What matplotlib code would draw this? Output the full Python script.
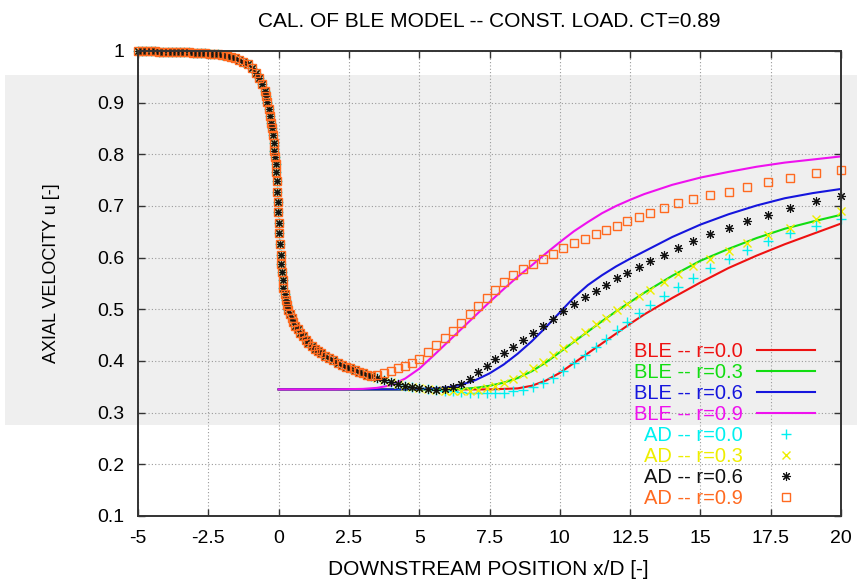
import numpy as np
import matplotlib
matplotlib.use("Agg")
import matplotlib.pyplot as plt
from matplotlib.patches import Rectangle

plt.rcParams["font.family"] = ["Liberation Sans", "DejaVu Sans"]
plt.rcParams["axes.unicode_minus"] = False

# BLE model lines (start at the rotor plane x/D = 0)
x_ble = [0, 1, 2, 3, 3.5, 4, 4.5, 5, 5.5, 6, 6.5, 7, 7.5, 8, 8.5, 9, 9.5, 10,
         10.5, 11, 11.5, 12, 12.5, 13, 14, 15, 16, 17, 18, 19, 20]
ble_r00 = [0.345, 0.345, 0.345, 0.345, 0.345, 0.345, 0.345, 0.345, 0.345, 0.345,
           0.345, 0.345, 0.345, 0.346, 0.347, 0.352, 0.362, 0.377, 0.396, 0.415,
           0.434, 0.453, 0.472, 0.490, 0.522, 0.552, 0.580, 0.604, 0.626, 0.646, 0.666]
ble_r03 = [0.345, 0.345, 0.345, 0.345, 0.345, 0.345, 0.345, 0.345, 0.345, 0.345,
           0.346, 0.348, 0.352, 0.358, 0.367, 0.380, 0.397, 0.417, 0.437, 0.457,
           0.477, 0.496, 0.514, 0.532, 0.565, 0.594, 0.617, 0.638, 0.656, 0.670, 0.683]
ble_r06 = [0.345, 0.345, 0.345, 0.345, 0.345, 0.345, 0.345, 0.346, 0.347, 0.349,
           0.354, 0.363, 0.376, 0.393, 0.414, 0.438, 0.465, 0.494, 0.523, 0.547,
           0.566, 0.583, 0.598, 0.612, 0.640, 0.664, 0.684, 0.701, 0.715, 0.725, 0.733]
ble_r09 = [0.345, 0.345, 0.345, 0.346, 0.348, 0.353, 0.366, 0.385, 0.410, 0.436,
           0.462, 0.488, 0.514, 0.539, 0.563, 0.585, 0.608, 0.630, 0.651, 0.669,
           0.686, 0.700, 0.712, 0.723, 0.741, 0.755, 0.766, 0.776, 0.784, 0.790, 0.796]

# AD (actuator disc) results: common upstream / near-wake part
x_ad_up = [-5.0, -4.85, -4.7, -4.55, -4.4, -4.25, -4.1, -3.95, -3.8, -3.65,
           -3.5, -3.35, -3.2, -3.05, -2.9, -2.75, -2.6, -2.45, -2.3, -2.15,
           -2.0, -1.85, -1.7, -1.55, -1.4, -1.25, -1.1, -0.95, -0.8, -0.7,
           -0.6, -0.5, -0.45, -0.4, -0.35, -0.31, -0.27, -0.24, -0.21, -0.18,
           -0.15, -0.13, -0.11, -0.09, -0.07, -0.05, -0.03, -0.01, 0.01, 0.03,
           0.05, 0.07, 0.09, 0.11, 0.14, 0.17, 0.21, 0.25, 0.3, 0.35,
           0.4, 0.46, 0.52, 0.6, 0.68, 0.77, 0.86, 0.96, 1.06, 1.17,
           1.28, 1.4, 1.52, 1.65, 1.8, 1.95, 2.1, 2.25, 2.4, 2.55,
           2.7, 2.85, 3.0, 3.15, 3.3]
u_ad_up = [1.000, 1.000, 1.000, 1.000, 1.000, 0.999, 0.999, 0.999, 0.999, 0.999,
           0.998, 0.998, 0.998, 0.997, 0.997, 0.997, 0.996, 0.995, 0.995, 0.994,
           0.992, 0.991, 0.989, 0.986, 0.983, 0.979, 0.974, 0.967, 0.957, 0.948,
           0.937, 0.922, 0.913, 0.901, 0.887, 0.874, 0.861, 0.850, 0.837, 0.822,
           0.806, 0.794, 0.782, 0.766, 0.748, 0.728, 0.708, 0.688, 0.668, 0.647,
           0.626, 0.605, 0.587, 0.572, 0.556, 0.542, 0.529, 0.519, 0.508, 0.499,
           0.491, 0.484, 0.476, 0.468, 0.461, 0.454, 0.448, 0.441, 0.435, 0.429,
           0.424, 0.419, 0.415, 0.410, 0.406, 0.401, 0.397, 0.393, 0.389, 0.386,
           0.382, 0.379, 0.376, 0.373, 0.370]

# AD results further downstream, one list per radius
x_ad_dn = [3.5, 3.75, 4.0, 4.25, 4.5, 4.75, 5.0, 5.3, 5.6, 5.9,
           6.2, 6.5, 6.8, 7.1, 7.4, 7.7, 8.0, 8.35, 8.7, 9.05,
           9.4, 9.75, 10.1, 10.5, 10.9, 11.3, 11.65, 12.05, 12.4, 12.8,
           13.2, 13.7, 14.2, 14.75, 15.35, 16.0, 16.65, 17.4, 18.2, 19.1,
           20.0]
ad_r00 = [0.367, 0.363, 0.359, 0.355, 0.352, 0.349, 0.347, 0.345, 0.343, 0.342,
          0.341, 0.340, 0.339, 0.338, 0.338, 0.338, 0.339, 0.341, 0.344, 0.349,
          0.357, 0.368, 0.381, 0.396, 0.412, 0.428, 0.443, 0.460, 0.475, 0.492,
          0.508, 0.526, 0.543, 0.561, 0.580, 0.598, 0.615, 0.633, 0.648, 0.662,
          0.675]
ad_r03 = [0.367, 0.363, 0.359, 0.355, 0.352, 0.349, 0.347, 0.345, 0.343, 0.342,
          0.341, 0.341, 0.342, 0.344, 0.347, 0.351, 0.357, 0.365, 0.375, 0.386,
          0.399, 0.412, 0.426, 0.441, 0.456, 0.471, 0.484, 0.499, 0.511, 0.525,
          0.538, 0.553, 0.568, 0.583, 0.598, 0.613, 0.628, 0.643, 0.658, 0.674,
          0.690]
ad_r06 = [0.367, 0.363, 0.359, 0.355, 0.352, 0.349, 0.347, 0.345, 0.344, 0.345,
          0.349, 0.356, 0.366, 0.378, 0.391, 0.403, 0.415, 0.428, 0.440, 0.454,
          0.467, 0.481, 0.496, 0.510, 0.523, 0.536, 0.547, 0.560, 0.571, 0.582,
          0.593, 0.606, 0.619, 0.632, 0.645, 0.658, 0.671, 0.683, 0.696, 0.709,
          0.720]
ad_r09 = [0.372, 0.376, 0.381, 0.386, 0.391, 0.397, 0.404, 0.417, 0.431, 0.445,
          0.459, 0.474, 0.490, 0.506, 0.522, 0.537, 0.552, 0.566, 0.578, 0.588,
          0.598, 0.608, 0.618, 0.628, 0.637, 0.645, 0.653, 0.661, 0.670, 0.679,
          0.687, 0.697, 0.705, 0.713, 0.721, 0.728, 0.737, 0.746, 0.755, 0.763,
          0.769]

ble_labels = ["BLE -- r=0.0", "BLE -- r=0.3", "BLE -- r=0.6", "BLE -- r=0.9"]
ad_labels = ["AD -- r=0.0", "AD -- r=0.3", "AD -- r=0.6", "AD -- r=0.9"]
ble_colors = ["#ee1111", "#11dd11", "#1515dd", "#ee11ee"]
ad_colors = ["#00f0f0", "#eeee00", "#111111", "#ff6a20"]

fig = plt.figure(figsize=(8.57, 5.83), dpi=100)
# light grey band behind the middle of the picture
fig.patches.append(Rectangle((5 / 857, 1 - 425 / 583), 1, 350 / 583,
                             transform=fig.transFigure, facecolor="#efefef",
                             edgecolor="none", zorder=-1))
ax = fig.add_axes([138 / 857, 1 - 516 / 583, 703 / 857, 465 / 583])
ax.set_facecolor("none")

for ys, c, lab in zip([ble_r00, ble_r03, ble_r06, ble_r09], ble_colors, ble_labels):
    ax.plot(x_ble, ys, color=c, lw=1.5, label=lab)

x_ad = x_ad_up + x_ad_dn
ad_styles = [
    dict(marker="+", ms=7, mew=1.0),
    dict(marker="x", ms=5.5, mew=1.0),
    dict(marker=(8, 2, 0), ms=6.5, mew=0.8),
    dict(marker="s", ms=6, mew=1.0, mfc="none"),
]
for ys, c, lab, st in zip([ad_r00, ad_r03, ad_r06, ad_r09], ad_colors, ad_labels, ad_styles):
    ax.plot(x_ad, u_ad_up + ys, ls="none", color=c, mec=c, label=lab,
            clip_on=False, **st)

ax.set_xlim(-5, 20)
ax.set_ylim(0.1, 1.0)
ax.set_xticks(np.arange(-5, 20.1, 2.5))
ax.set_yticks(np.arange(0.1, 1.01, 0.1))
ax.xaxis.set_major_formatter(matplotlib.ticker.FormatStrFormatter("%g"))
ax.yaxis.set_major_formatter(matplotlib.ticker.FormatStrFormatter("%g"))
ax.tick_params(direction="in", length=5, width=1, top=True, right=True,
               labelsize=14, color="#333333", pad=10)
ax.grid(True, color="#9a9a9a", ls=(0, (1, 2)), lw=0.8)
for sp in ax.spines.values():
    sp.set_color("#333333")
    sp.set_linewidth(1.4)

ax.set_title("CAL. OF BLE MODEL -- CONST. LOAD. CT=0.89", fontsize=15, pad=17)
ax.set_xlabel("DOWNSTREAM POSITION x/D [-]", fontsize=15)
ax.set_ylabel("AXIAL VELOCITY u [-]", fontsize=13)
ax.xaxis.set_label_coords(0.498, -0.095)
ax.yaxis.set_label_coords(-0.111, 0.523)

leg = ax.legend(loc="lower right", bbox_to_anchor=((815 - 138) / 703, (516 - 508) / 465),
                frameon=False, markerfirst=False, numpoints=1, fontsize=14.5,
                handlelength=2.9, handletextpad=0.7, labelspacing=0.1,
                borderpad=0, borderaxespad=0, labelcolor="linecolor")

fig.savefig("out.png", dpi=100)
